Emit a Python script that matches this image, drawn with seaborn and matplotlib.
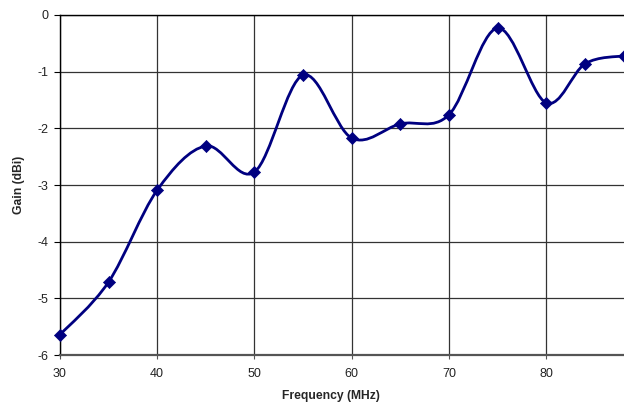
import matplotlib
matplotlib.use("Agg")
import matplotlib.pyplot as plt
import seaborn as sns
import numpy as np
from matplotlib.path import Path
from matplotlib.patches import PathPatch

# data
freq = [30, 35, 40, 45, 50, 55, 60, 65, 70, 75, 80, 84, 88]
gain = [-5.64, -4.71, -3.09, -2.31, -2.77, -1.06, -2.17, -1.92, -1.76, -0.23, -1.55, -0.86, -0.72]

line_color = "#000080"

sns.set_style("white")
plt.rcParams['font.family'] = ['Liberation Sans', 'DejaVu Sans']

fig = plt.figure(figsize=(6.24, 4.05), dpi=100)
ax = fig.add_axes([0.096, 0.123, 0.904, 0.84])


# smoothed line like a spreadsheet chart: cubic Bezier segments (Catmull-Rom style)
def smooth_path(xs, ys, t=1/6):
    pts = np.column_stack([xs, ys])
    verts = [pts[0]]
    codes = [Path.MOVETO]
    n = len(pts)
    for i in range(n - 1):
        p0 = pts[i - 1] if i > 0 else pts[i]
        p1 = pts[i]
        p2 = pts[i + 1]
        p3 = pts[i + 2] if i + 2 < n else pts[i + 1]
        c1 = p1 + (p2 - p0) * t
        c2 = p2 - (p3 - p1) * t
        verts += [c1, c2, p2]
        codes += [Path.CURVE4] * 3
    return Path(verts, codes)


patch = PathPatch(smooth_path(freq, gain), facecolor="none", edgecolor=line_color,
                  linewidth=2.0, capstyle="round", joinstyle="round", zorder=3)
ax.add_patch(patch)

sns.scatterplot(x=freq, y=gain, marker="D", s=38, color=line_color,
                edgecolor=line_color, linewidth=0.5, ax=ax, zorder=4, clip_on=False)

ax.set_xlim(30, 88)
ax.set_ylim(-6, 0)
ax.set_xticks([30, 40, 50, 60, 70, 80])
ax.set_yticks([-6, -5, -4, -3, -2, -1, 0])
ax.set_yticklabels(["-6", "-5", "-4", "-3", "-2", "-1", "0"])

ax.grid(True, color="#333333", linewidth=0.9)
ax.set_axisbelow(True)

for side in ["left", "top"]:
    ax.spines[side].set_color("black")
    ax.spines[side].set_linewidth(1.0)
ax.spines["bottom"].set_color("#555555")
ax.spines["bottom"].set_linewidth(1.6)
ax.spines["right"].set_visible(False)

ax.tick_params(axis="y", which="both", left=True, length=4, width=0.8, color="black",
               labelsize=9, pad=4, labelcolor="#222222")
ax.tick_params(axis="x", which="both", bottom=True, length=3, width=0.8, color="#555555",
               labelsize=9, pad=6, labelcolor="#222222")

ax.set_xlabel("Frequency (MHz)", fontsize=8.7, fontweight="bold", va="center")
ax.set_ylabel("Gain (dBi)", fontsize=8.7, fontweight="bold", va="center")
ax.xaxis.set_label_coords(0.48, -0.12)
ax.yaxis.set_label_coords(-0.073, 0.5)

fig.savefig("out.png", dpi=100)
